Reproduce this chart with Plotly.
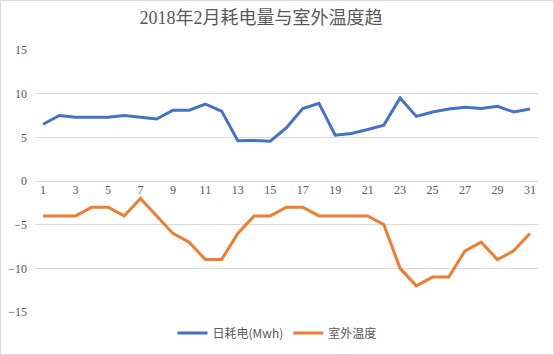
import plotly.graph_objects as go

days = list(range(1, 32))
power = [6.5, 7.5, 7.3, 7.3, 7.3, 7.5, 7.3, 7.1, 8.1, 8.1, 8.8, 8.0, 4.6, 4.65, 4.55,
         6.1, 8.3, 8.9, 5.25, 5.45, 5.9, 6.4, 9.5, 7.4, 7.9, 8.25, 8.45, 8.3, 8.55, 7.9, 8.25]
temp = [-4, -4, -4, -3, -3, -4, -2, -4, -6, -7, -9, -9, -6, -4, -4,
        -3, -3, -4, -4, -4, -4, -5, -10, -12, -11, -11, -8, -7, -9, -8, -6]
series_names = ["日耗电(Mwh)", "室外温度"]
title_text = "2018年2月耗电量与室外温度趋"

W, H = 554, 355
ml, mr, mt, mb = 35, 16, 50, 43

fig = go.Figure()
fig.add_trace(go.Scatter(x=days, y=power, mode="lines", name=series_names[0],
                         line=dict(color="#4472C4", width=3)))
fig.add_trace(go.Scatter(x=days, y=temp, mode="lines", name=series_names[1],
                         line=dict(color="#ED7D31", width=3)))

pw = W - ml - mr
ph = H - mt - mb
fig.add_shape(type="rect", xref="paper", yref="paper",
              x0=(0.5 - ml) / pw, x1=(W - 0.5 - ml) / pw,
              y0=-(mb - 0.5) / ph, y1=1 + (mt - 0.5) / ph,
              line=dict(color="#d9d9d9", width=1), layer="below")

fig.update_layout(
    width=W, height=H,
    margin=dict(l=ml, r=mr, t=mt, b=mb, autoexpand=False),
    paper_bgcolor="white", plot_bgcolor="white",
    title=dict(text=title_text, x=261 / W, xref="container", xanchor="center",
               y=1 - 18 / H, yref="container", yanchor="middle",
               font=dict(family="Liberation Serif, Noto Sans CJK SC", size=18, color="#595959")),
    font=dict(family="Liberation Serif, Noto Sans CJK SC", color="#595959", size=12),
    xaxis=dict(range=[0.5, 31.5], tick0=1, dtick=2, showgrid=False, zeroline=False,
               showline=False, ticks="", anchor="free", position=0.5,
               tickfont=dict(size=12, color="#595959")),
    yaxis=dict(range=[-15, 15], dtick=5, showgrid=True, gridcolor="#d9d9d9", gridwidth=1,
               zeroline=True, zerolinecolor="#d9d9d9", zerolinewidth=1, showline=False,
               ticks="", tickfont=dict(size=12, color="#595959"), ticklabelstandoff=7),
    legend=dict(orientation="h", x=(277 - ml) / pw, xanchor="center",
                y=1 - 333 / H, yref="container", yanchor="middle",
                font=dict(family="Noto Sans CJK SC", size=12, color="#595959"),
                itemwidth=30, tracegroupgap=0),
    showlegend=True,
)

fig.write_html("out.html", config={"displayModeBar": False},
               post_script="document.body.style.margin='0';")
